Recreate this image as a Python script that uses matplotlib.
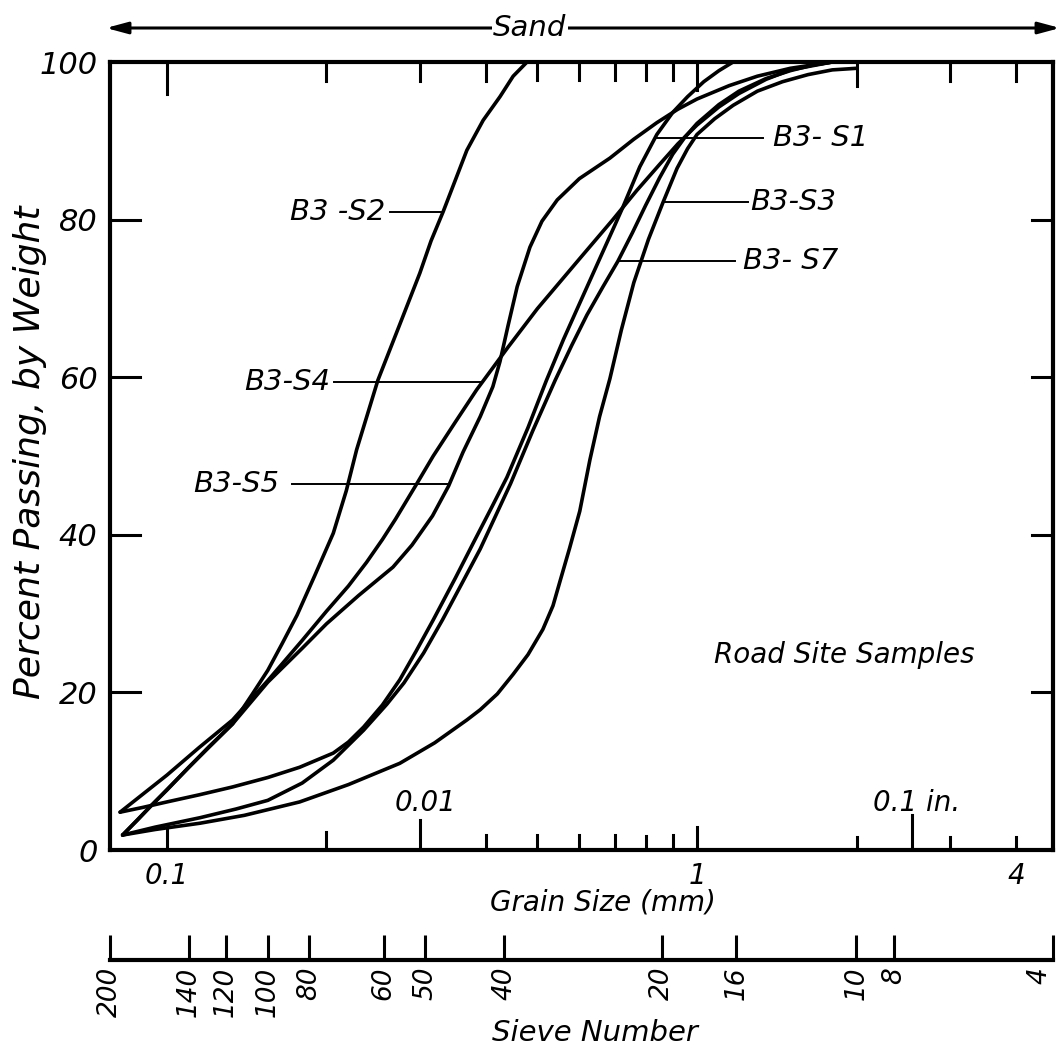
import matplotlib.pyplot as plt
from matplotlib.ticker import NullLocator

plt.rcParams['font.family'] = ['DejaVu Sans']
plt.rcParams['font.style'] = 'italic'

# grain size (mm) vs percent passing
s1_mm = [0.0816, 0.09, 0.1, 0.115, 0.133, 0.155, 0.178, 0.206, 0.22, 0.235, 0.255, 0.275, 0.295,
         0.318, 0.35, 0.38, 0.41, 0.438, 0.48, 0.52, 0.56, 0.6, 0.65, 0.7, 0.725, 0.78, 0.84,
         0.9, 0.96, 1.03, 1.1, 1.17]
s1_pct = [4.8, 5.4, 6.1, 7.0, 8.0, 9.2, 10.5, 12.3, 13.7, 15.6, 18.4, 21.6, 25.2,
          29.2, 34.5, 39.2, 43.5, 47.3, 53.6, 59.6, 64.8, 69.3, 74.5, 79.3, 81.6, 86.7, 90.8,
          93.6, 95.6, 97.5, 98.9, 100]

s2_mm = [0.0825, 0.088, 0.093, 0.1, 0.11, 0.12, 0.133, 0.145, 0.155, 0.165, 0.176, 0.19, 0.206,
         0.218, 0.228, 0.24, 0.25, 0.275, 0.30, 0.315, 0.332, 0.35, 0.368, 0.395, 0.425, 0.45, 0.478]
s2_pct = [1.9, 3.8, 5.5, 7.6, 10.5, 13.1, 16, 19.8, 22.8, 26.2, 29.8, 34.8, 40.2,
          45.6, 50.8, 55.7, 59.6, 66.7, 73.2, 77.3, 81, 85, 88.8, 92.6, 95.6, 98.2, 100]

s3_mm = [0.0825, 0.095, 0.1155, 0.14, 0.178, 0.22, 0.275, 0.32, 0.368, 0.39, 0.42, 0.45, 0.48,
         0.512, 0.535, 0.551, 0.575, 0.601, 0.628, 0.655, 0.685, 0.72, 0.76, 0.81, 0.863, 0.917,
         0.96, 1.0, 1.08, 1.17, 1.3, 1.45, 1.62, 1.8, 2.0]
s3_pct = [1.9, 2.6, 3.4, 4.4, 6.1, 8.3, 11, 13.6, 16.5, 17.8, 19.8, 22.3, 24.8,
          28, 31, 34, 38.3, 43, 49.5, 55, 59.8, 66, 72, 77.5, 82.2, 86.5,
          89, 90.8, 92.8, 94.5, 96.3, 97.5, 98.4, 99, 99.2]

s4_mm = [0.0816, 0.1, 0.115, 0.133, 0.155, 0.18, 0.2, 0.22, 0.238, 0.255, 0.27, 0.295, 0.318,
         0.35, 0.384, 0.44, 0.5, 0.6, 0.694, 0.77, 0.85, 0.92, 1.0, 1.1, 1.2, 1.35, 1.5, 1.8]
s4_pct = [4.8, 9.5, 13, 16.5, 21.5, 26.6, 30.3, 33.5, 36.5, 39.4, 42, 46.3, 50,
          54.3, 58.4, 63.8, 68.7, 75, 80, 83.7, 87, 89.6, 92, 94.3, 96, 97.8, 99, 100]

s5_mm = [0.0825, 0.093, 0.11, 0.133, 0.155, 0.18, 0.2, 0.23, 0.267, 0.29, 0.317, 0.34, 0.362,
         0.39, 0.412, 0.425, 0.44, 0.458, 0.484, 0.51, 0.545, 0.6, 0.685, 0.76, 0.84, 0.92,
         1.0, 1.15, 1.3, 1.5, 1.8]
s5_pct = [1.9, 5.5, 10.5, 16, 21.3, 25.6, 28.7, 32.3, 35.9, 38.7, 42.4, 46.2, 50.5,
          55, 58.8, 62, 66.5, 71.5, 76.5, 79.8, 82.5, 85.2, 87.8, 90.2, 92.3, 94,
          95.3, 97, 98.2, 99.2, 100]

s7_mm = [0.0825, 0.095, 0.1155, 0.135, 0.155, 0.18, 0.206, 0.235, 0.26, 0.28, 0.305, 0.331, 0.36,
         0.39, 0.445, 0.49, 0.54, 0.58, 0.62, 0.665, 0.709, 0.755, 0.8, 0.85, 0.9, 0.95, 1.0,
         1.1, 1.2, 1.35, 1.5, 1.65, 1.8]
s7_pct = [1.9, 2.9, 4.1, 5.2, 6.3, 8.5, 11.4, 15.2, 18.5, 21.2, 25, 29.2, 33.8,
          38.2, 46.5, 53.2, 59.6, 64, 67.9, 71.5, 74.7, 78.3, 81.8, 85.3, 88.3, 90.5, 92.2,
          94.6, 96.3, 97.9, 98.9, 99.6, 100]

curves = [(s1_mm, s1_pct), (s2_mm, s2_pct), (s3_mm, s3_pct),
          (s4_mm, s4_pct), (s5_mm, s5_pct), (s7_mm, s7_pct)]

# label text, text x (mm), level (%), alignment, leader from/to (mm)
labels = [
    ('B3 -S2', 0.258, 81.0, 'right', 0.263, 0.332),
    ('B3-S4', 0.203, 59.4, 'right', 0.207, 0.392),
    ('B3-S5', 0.163, 46.4, 'right', 0.172, 0.342),
    ('B3- S1', 1.39, 90.4, 'left', 0.835, 1.33),
    ('B3-S3', 1.26, 82.2, 'left', 0.863, 1.248),
    ('B3- S7', 1.22, 74.7, 'left', 0.709, 1.18),
]

sieve_no = ['200', '140', '120', '100', '80', '60', '50', '40', '20', '16', '10', '8', '4']
sieve_mm = [0.075, 0.106, 0.125, 0.150, 0.180, 0.250, 0.300, 0.425, 0.850, 1.18, 2.00, 2.36, 4.75]

yvals = [0, 20, 40, 60, 80, 100]
mm_labels = [0.1, 1, 4]

# inner tick marks (mm, length px)
top_ticks = [(0.1, 32), (0.2, 19), (0.3, 19), (0.4, 19), (0.5, 18), (0.6, 18), (0.7, 18),
             (0.8, 18), (0.9, 18), (1.0, 28), (2.0, 24), (3.0, 19), (4.0, 19)]
bot_ticks = [(0.1, 20), (0.2, 18), (0.3, 30), (0.4, 15), (0.5, 15), (0.6, 15), (0.7, 15),
             (0.8, 14), (0.9, 15), (1.0, 23), (2.0, 13), (2.54, 35), (3.0, 13), (4.0, 13)]

W, H = 1062, 1057
fig = plt.figure(figsize=(W / 100, H / 100), dpi=100)
fig.patch.set_facecolor('white')

left, right, top, bottom = 110, 1053, 62, 850
ax = fig.add_axes([left / W, 1 - bottom / H, (right - left) / W, (bottom - top) / H])
ax_w, ax_h = right - left, bottom - top

for d, p in curves:
    ax.plot(d, p, color='black', lw=2.6, solid_joinstyle='round', solid_capstyle='round', clip_on=False)

ax.set_xscale('log')
ax.set_xlim(0.0781, 4.695)
ax.set_ylim(0, 100)
for s in ax.spines.values():
    s.set_linewidth(3)
ax.xaxis.set_minor_locator(NullLocator())
ax.set_xticks(mm_labels, ['0.1', '1', '4'])
ax.set_yticks(yvals, [str(v) for v in yvals])
ax.tick_params(axis='x', length=0, pad=9, labelsize=20)
ax.tick_params(axis='y', length=0, pad=9, labelsize=22)

tx = ax.get_xaxis_transform()
ty = ax.get_yaxis_transform()
for d, L in top_ticks:
    ax.plot([d, d], [1, 1 - L / ax_h], transform=tx, color='k', lw=2.2)
for d, L in bot_ticks:
    ax.plot([d, d], [0, L / ax_h], transform=tx, color='k', lw=2.2)
for v in yvals[1:-1]:
    ax.plot([0, 30 / ax_w], [v, v], transform=ty, color='k', lw=2.2)
    ax.plot([1, 1 - 21 / ax_w], [v, v], transform=ty, color='k', lw=2.2)

for name, xt, lev, ha, d0, d1 in labels:
    ax.plot([d0, d1], [lev, lev], color='k', lw=1.4)
    ax.text(xt, lev, name, ha=ha, va='center', fontsize=21)

ax.text(0.307, 6.0, '0.01', ha='center', va='center', fontsize=20)
ax.text(2.15, 6.0, '0.1 in.', ha='left', va='center', fontsize=20)
ax.text(1.075, 24.7, 'Road Site Samples', ha='left', va='center', fontsize=20)

fig.text(30 / W, 1 - 452 / H, 'Percent Passing, by Weight', rotation=90,
         ha='center', va='center', fontsize=26)
fig.text(603 / W, 1 - 903 / H, 'Grain Size (mm)', ha='center', va='center', fontsize=20)
fig.text(595 / W, 1 - 1033 / H, 'Sieve Number', ha='center', va='center', fontsize=21)

# Sand range arrow
fig.text(530 / W, 1 - 28 / H, 'Sand', ha='center', va='center', fontsize=21,
         bbox=dict(facecolor='white', edgecolor='none', pad=1))
ax.annotate('', xy=(1060 / W, 1 - 28 / H), xytext=(106 / W, 1 - 28 / H),
            xycoords='figure fraction', textcoords='figure fraction',
            arrowprops=dict(arrowstyle='<|-|>,head_length=1.3,head_width=0.35',
                            color='k', lw=2.2, shrinkA=0, shrinkB=0), zorder=0)

# sieve number scale
sy = 960
sax = fig.add_axes([left / W, 1 - sy / H, ax_w / W, 30 / H])
sax.patch.set_alpha(0)
sax.set_xscale('log')
sax.set_xlim(0.075, 4.75)
for k in ['left', 'right', 'top']:
    sax.spines[k].set_visible(False)
sax.spines['bottom'].set_linewidth(3)
sax.set_yticks([])
sax.xaxis.set_minor_locator(NullLocator())
sax.set_xticks(sieve_mm, sieve_no, rotation=90)
sax.tick_params(axis='x', direction='in', length=18, width=2.2, pad=5, labelsize=19)
sax.get_xticklabels()[-1].set_ha('right')

fig.savefig('out.png', dpi=100)
